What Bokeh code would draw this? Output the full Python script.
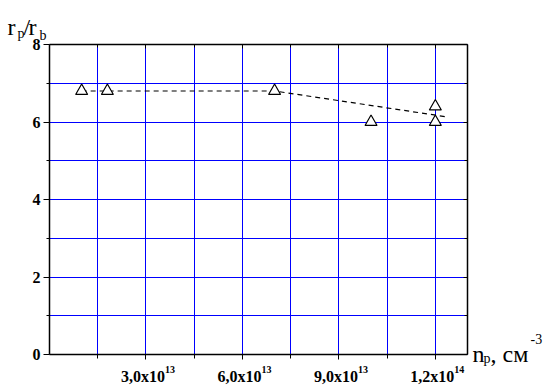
from bokeh.plotting import figure
from bokeh.models import (Range1d, FixedTicker, Label, LabelSet, ColumnDataSource,
                          LinearAxis, CustomJSTickFormatter)
from bokeh.embed import file_html
from bokeh.resources import INLINE

# ---- data ----
np_vals = [1.0e13, 1.8e13, 7.0e13, 1.0e14, 1.2e14, 1.2e14]
ratio_vals = [6.8, 6.8, 6.8, 6.0, 6.4, 6.0]

fit_x = [1.0e13, 1.8e13, 7.0e13, 1.23e14]
fit_y = [6.8, 6.8, 6.8, 6.14]

x_major = [3.0e13, 6.0e13, 9.0e13, 1.2e14]
x_minor = [1.5e13, 4.5e13, 7.5e13, 1.05e14]
x_mant = ["3,0x10", "6,0x10", "9,0x10", "1,2x10"]
x_exp = ["13", "13", "13", "14"]
y_major = [0, 2, 4, 6, 8]
y_minor = [1, 3, 5, 7]
X0, X1 = 0.0, 1.3e14
Y0, Y1 = 0.0, 8.0

# ---- layout (pixels) ----
W, H = 545, 385
FL, FR, FT, FB = 49, 467, 44, 354   # box edges in the picture
FONT = "Liberation Serif"

# the frame covers the whole canvas; the box [X0,X1]x[Y0,Y1] lands at FL..FR, FT..FB
xs = (X1 - X0) / (FR - FL)
ys = (Y1 - Y0) / (FB - FT)
xr = Range1d(X0 - FL * xs, X1 + (W - FR) * xs)
yr = Range1d(Y0 - (H - FB) * ys, Y1 + FT * ys)

p = figure(width=W, height=H, output_backend="svg", toolbar_location=None,
           x_range=xr, y_range=yr, min_border=0)
p.background_fill_color = "white"
p.border_fill_color = "white"
p.outline_line_color = None

xt = FixedTicker(ticks=x_major, minor_ticks=x_minor)
yt = FixedTicker(ticks=y_major, minor_ticks=y_minor)
blank = CustomJSTickFormatter(code="return ''")

p.xaxis.ticker = xt
p.yaxis.ticker = yt
p.xgrid.ticker = xt
p.ygrid.ticker = yt

p.xgrid.cross_bounds = (Y0, Y1)
p.ygrid.cross_bounds = (X0, X1)
for g in (p.xgrid, p.ygrid):
    g.grid_line_color = "#0000ff"
    g.grid_line_width = 1
    g.minor_grid_line_color = "#0000ff"
    g.minor_grid_line_width = 1

p.xaxis.fixed_location = Y0
p.xaxis.bounds = (X0, X1)
p.yaxis.fixed_location = X0
p.yaxis.bounds = (Y0, Y1)

for ax in (p.xaxis, p.yaxis):
    ax.axis_line_color = "black"
    ax.axis_line_width = 1.5
    ax.major_tick_line_color = "black"
    ax.minor_tick_line_color = "black"
    ax.major_tick_in = 0
    ax.minor_tick_in = 0
    ax.major_label_text_font = FONT
    ax.major_label_text_font_style = "bold"
    ax.major_label_text_font_size = "16px"
    ax.major_label_text_color = "black"

p.yaxis.major_tick_out = 6
p.yaxis.minor_tick_out = 3
p.yaxis.major_label_standoff = 3
p.xaxis.major_tick_out = 5
p.xaxis.minor_tick_out = 4
p.xaxis.formatter = blank

# right and top edges of the box with inward ticks
for side, t, loc, bnd in (("right", yt, X1, (Y0, Y1)), ("above", xt, Y1, (X0, X1))):
    a = LinearAxis(ticker=t, formatter=blank, fixed_location=loc, bounds=bnd,
                   major_tick_in=4, major_tick_out=0, minor_tick_in=3,
                   minor_tick_out=0, major_label_standoff=0,
                   axis_line_color="black", axis_line_width=1.5,
                   major_tick_line_color="black", minor_tick_line_color="black")
    p.add_layout(a, side)

# data
p.line(fit_x, fit_y, line_color="black", line_dash="5 4", line_width=1.2)
p.scatter(np_vals, ratio_vals, marker="triangle", size=12,
          fill_color="white", line_color="black", line_width=1.2)

# x tick labels with superscript exponents
src = ColumnDataSource(dict(x=x_major, mant=x_mant, exp=x_exp))
p.add_layout(LabelSet(x="x", y=H - 381, y_units="screen", text="mant", source=src,
                      x_offset=19, text_align="right", text_baseline="alphabetic",
                      text_font=FONT, text_font_style="bold",
                      text_font_size="16px", text_color="black"))
p.add_layout(LabelSet(x="x", y=H - 372, y_units="screen", text="exp", source=src,
                      x_offset=19, text_align="left", text_baseline="alphabetic",
                      text_font=FONT, text_font_style="bold",
                      text_font_size="10px", text_color="black"))

def lab(txt, ix, iy, size):
    # ix, iy: picture pixels from the top-left corner
    p.add_layout(Label(x=ix, y=H - iy, x_units="screen", y_units="screen",
                       text=txt, text_font=FONT, text_font_size=size,
                       text_color="black", text_align="left",
                       text_baseline="alphabetic"))

# y axis title r_p / r_b
lab("r", 7, 26, "24px")
lab("p", 17, 33, "14px")
lab("/", 23, 26, "24px")
lab("r", 28, 26, "24px")
lab("b", 39, 35, "14px")

# x axis title n_p, cm^-3
lab("n", 472, 353, "24px")
lab("p", 483, 358, "14px")
lab(", см", 490, 353, "24px")
lab("-3", 530, 338, "14px")

open("out.html", "w").write(file_html(p, INLINE))
